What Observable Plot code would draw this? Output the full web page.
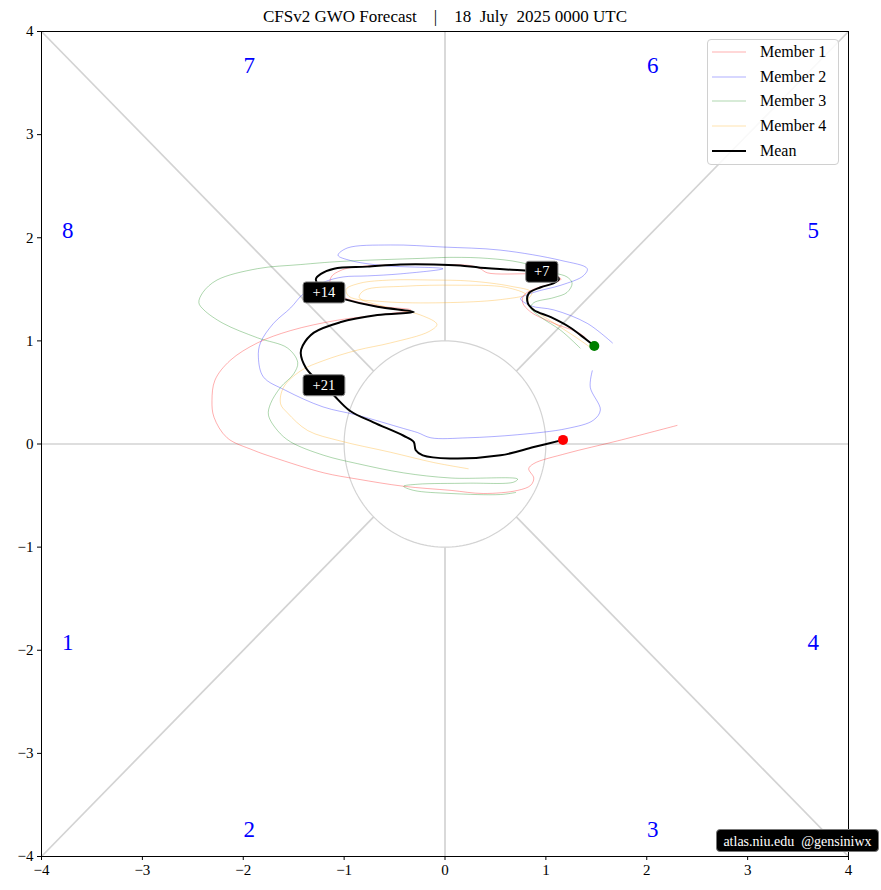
<!DOCTYPE html>
<html><head><meta charset="utf-8">
<script src="https://cdn.jsdelivr.net/npm/d3@7"></script>
<script src="https://cdn.jsdelivr.net/npm/@observablehq/plot@0.6"></script>
<style>
body{margin:0;background:#fff;}
#wrap{position:relative;width:881px;height:890px;font-family:"Liberation Serif","DejaVu Serif",serif;}
#legend{position:absolute;left:707px;top:39px;width:132px;height:126px;background:rgba(255,255,255,0.85);border:1px solid #d0d0d0;border-radius:4px;box-sizing:border-box;}
.row{position:absolute;left:0;height:20px;width:130px;}
.sw{position:absolute;left:4px;width:34px;top:9px;}
.lt{position:absolute;left:52px;top:0;font-size:16px;line-height:20px;color:#000;white-space:nowrap;}
#wm{position:absolute;left:716px;top:829px;width:163px;height:23px;background:#000;border-radius:4px;color:#fff;font-size:14px;line-height:23px;text-align:center;white-space:pre;border:1px solid #777;box-sizing:border-box;}
</style></head>
<body><div id="wrap"></div>
<script>
// ---------- data ----------
const titleText = "CFSv2 GWO Forecast \u00a0\u00a0 | \u00a0\u00a0 18 \u00a0July \u00a02025 0000 UTC";
const tickValues = [-4, -3, -2, -1, 0, 1, 2, 3, 4];

const phaseLabels = ["7", "6", "8", "5", "1", "4", "2", "3"];
const phaseX = [-1.94, 2.06, -3.74, 3.65, -3.74, 3.65, -1.94, 2.06];
const phaseY = [3.67, 3.67, 2.07, 2.07, -1.93, -1.93, -3.74, -3.74];

const member1 = [[1.44,0.98],[1.34,1.07],[1.08,1.17],[0.85,1.28],[0.77,1.37],[0.78,1.44],[0.90,1.51],[1.08,1.56],[1.15,1.60],[1.03,1.64],[0.85,1.65],[0.42,1.66],[0.35,1.70],[0.25,1.73],[-0.05,1.74],[-0.44,1.74],[-0.94,1.71],[-1.04,1.68],[-1.12,1.63],[-1.14,1.56],[-1.04,1.44],[-0.67,1.34],[-0.34,1.30],[-0.67,1.25],[-1.07,1.20],[-1.53,1.10],[-1.86,0.98],[-2.13,0.81],[-2.28,0.62],[-2.31,0.42],[-2.29,0.26],[-2.16,0.06],[-1.90,-0.06],[-1.70,-0.13],[-1.20,-0.28],[-0.87,-0.34],[-0.41,-0.41],[0.06,-0.45],[0.38,-0.48],[0.72,-0.45],[0.85,-0.40],[0.88,-0.33],[0.83,-0.24],[0.88,-0.19],[1.21,-0.09],[1.71,0.03],[2.30,0.18]];
const member2 = [[1.66,0.98],[1.41,1.17],[1.08,1.30],[0.85,1.34],[0.75,1.41],[0.88,1.47],[1.15,1.54],[1.37,1.63],[1.41,1.70],[1.15,1.78],[0.55,1.88],[-0.02,1.91],[-0.54,1.93],[-0.97,1.90],[-1.06,1.83],[-0.94,1.78],[-0.61,1.73],[-0.02,1.70],[-0.44,1.65],[-0.77,1.63],[-1.01,1.62],[-1.20,1.57],[-1.40,1.46],[-1.53,1.32],[-1.70,1.17],[-1.83,0.98],[-1.85,0.84],[-1.80,0.65],[-1.58,0.52],[-1.21,0.36],[-0.87,0.28],[-0.41,0.15],[-0.27,0.11],[-0.14,0.06],[0.22,0.06],[0.72,0.09],[1.21,0.15],[1.47,0.23],[1.54,0.33],[1.44,0.55],[1.46,0.71]];
const member3 = [[1.34,0.93],[1.15,1.10],[0.95,1.23],[0.85,1.32],[0.88,1.37],[1.08,1.42],[1.21,1.47],[1.26,1.56],[1.21,1.62],[1.08,1.66],[0.75,1.76],[0.42,1.80],[0.08,1.81],[-0.24,1.80],[-1.04,1.77],[-1.43,1.74],[-1.86,1.70],[-2.26,1.59],[-2.40,1.47],[-2.44,1.37],[-2.39,1.30],[-2.20,1.17],[-1.86,1.03],[-1.56,0.93],[-1.46,0.79],[-1.50,0.68],[-1.63,0.55],[-1.73,0.39],[-1.75,0.28],[-1.66,0.13],[-1.53,0.02],[-1.20,-0.11],[-0.87,-0.19],[-0.41,-0.28],[0.06,-0.33],[0.72,-0.34],[0.68,-0.37],[0.22,-0.38],[-0.27,-0.39],[-0.41,-0.41],[-0.31,-0.45],[0.06,-0.48],[0.55,-0.49],[0.70,-0.47]];
const member4 = [[1.48,0.91],[1.29,1.04],[1.07,1.18],[0.90,1.29],[0.82,1.38],[0.86,1.47],[0.65,1.53],[0.25,1.58],[-0.14,1.59],[-0.54,1.59],[-0.84,1.56],[-0.98,1.50],[-0.95,1.43],[-0.60,1.38],[-0.02,1.37],[0.55,1.40],[0.80,1.45],[0.60,1.52],[0.10,1.54],[-0.40,1.53],[-0.80,1.49],[-0.85,1.42],[-0.59,1.33],[-0.24,1.25],[-0.08,1.16],[-0.16,1.09],[-0.54,0.98],[-0.87,0.91],[-1.20,0.81],[-1.43,0.71],[-1.60,0.55],[-1.63,0.39],[-1.56,0.30],[-1.36,0.13],[-1.04,0.03],[-0.54,-0.08],[-0.11,-0.18],[0.23,-0.24]];
const meanPath = [[1.48,0.95],[1.39,1.02],[1.24,1.13],[1.05,1.23],[0.88,1.30],[0.82,1.37],[0.83,1.46],[0.95,1.52],[1.08,1.56],[1.13,1.60],[1.10,1.63],[0.96,1.67],[0.82,1.68],[0.35,1.71],[0.15,1.73],[-0.11,1.74],[-0.44,1.74],[-0.77,1.72],[-1.10,1.70],[-1.23,1.65],[-1.28,1.60],[-1.20,1.47],[-1.02,1.41],[-0.67,1.33],[-0.31,1.28],[-0.67,1.25],[-1.04,1.18],[-1.30,1.08],[-1.41,0.955],[-1.43,0.88],[-1.38,0.74],[-1.30,0.65],[-1.20,0.57],[-1.10,0.47],[-0.94,0.32],[-0.71,0.21],[-0.41,0.08],[-0.31,0.02],[-0.29,-0.06],[-0.22,-0.11],[0.05,-0.14],[0.55,-0.11],[0.88,-0.03],[1.17,0.04]];

const dayLabels = ["+7", "+14", "+21"];
const dayX = [0.96, -1.20, -1.20];
const dayY = [1.67, 1.47, 0.57];

const seriesNames = ["Member 1", "Member 2", "Member 3", "Member 4", "Mean"];
const seriesColors = ["red", "blue", "green", "orange", "black"];
const seriesOpacity = [0.4, 0.4, 0.4, 0.4, 1];
const seriesWidth = [0.8, 0.8, 0.8, 0.8, 2];
const credit = "atlas.niu.edu \u00a0@gensiniwx";

// ---------- derived ----------
const members = [member1, member2, member3, member4];
const d2 = Math.SQRT1_2;
const refSegments = [
  {x1: -4, y1: 0, x2: -1, y2: 0}, {x1: 1, y1: 0, x2: 4, y2: 0},
  {x1: 0, y1: 1, x2: 0, y2: 4}, {x1: 0, y1: -1, x2: 0, y2: -4},
  {x1: -4, y1: 4, x2: -d2, y2: d2}, {x1: 4, y1: 4, x2: d2, y2: d2},
  {x1: -4, y1: -4, x2: -d2, y2: -d2}, {x1: 4, y1: -4, x2: d2, y2: -d2}
];
const circle = d3.range(0, 361, 2).map(a => [Math.cos(a * Math.PI / 180), Math.sin(a * Math.PI / 180)]);
const phases = phaseLabels.map((t, i) => ({t, x: phaseX[i], y: phaseY[i]}));
const days = dayLabels.map((t, i) => ({t, x: dayX[i], y: dayY[i], hw: 6.5 + 4.8 * t.length}));

const roundBox = {
  draw(ctx, size) {
    const hw = Math.sqrt(size / Math.PI), hh = 10.5, r = 3;
    ctx.moveTo(-hw + r, -hh);
    ctx.lineTo(hw - r, -hh); ctx.arcTo(hw, -hh, hw, -hh + r, r);
    ctx.lineTo(hw, hh - r); ctx.arcTo(hw, hh, hw - r, hh, r);
    ctx.lineTo(-hw + r, hh); ctx.arcTo(-hw, hh, -hw, hh - r, r);
    ctx.lineTo(-hw, -hh + r); ctx.arcTo(-hw, -hh, -hw + r, -hh, r);
    ctx.closePath();
  }
};

const memberMarks = members.map((m, i) => Plot.line(m, {
  x: d => d[0], y: d => d[1], stroke: seriesColors[i], strokeOpacity: seriesOpacity[i],
  strokeWidth: seriesWidth[i], curve: "catmull-rom"
}));

const chart = Plot.plot({
  width: 881, height: 890,
  marginLeft: 41, marginRight: 33, marginTop: 31, marginBottom: 34,
  style: {fontFamily: "'Liberation Serif', 'DejaVu Serif', serif", fontSize: "15px", background: "transparent", overflow: "visible", color: "black"},
  x: {domain: [-4, 4], label: null},
  y: {domain: [-4, 4], label: null},
  r: {type: "identity"},
  marks: [
    Plot.link(refSegments, {x1: "x1", y1: "y1", x2: "x2", y2: "y2", stroke: "#d3d3d3", strokeWidth: 1.7}),
    Plot.line(circle, {x: d => d[0], y: d => d[1], stroke: "#d3d3d3", strokeWidth: 1.2}),
    ...memberMarks,
    Plot.line(meanPath, {x: d => d[0], y: d => d[1], stroke: "black", strokeWidth: 2, curve: "catmull-rom"}),
    Plot.dot([meanPath[0]], {x: d => d[0], y: d => d[1], r: 5, fill: "green"}),
    Plot.dot([meanPath[meanPath.length - 1]], {x: d => d[0], y: d => d[1], r: 5, fill: "red"}),
    Plot.dot(days, {x: "x", y: "y", r: "hw", symbol: roundBox, fill: "black", stroke: "#888", strokeWidth: 1}),
    Plot.text(days, {x: "x", y: "y", text: "t", fill: "white", fontSize: 14.5}),
    Plot.text(phases, {x: "x", y: "y", text: "t", fill: "blue", fontSize: 23}),
    Plot.frame({stroke: "black", strokeWidth: 1}),
    Plot.axisX({ticks: tickValues, tickSize: 4, tickPadding: 4, fontSize: 15, label: null, fill: "black"}),
    Plot.axisY({ticks: tickValues, tickSize: 4, tickPadding: 4, fontSize: 15, label: null, fill: "black"}),
    Plot.text([titleText], {frameAnchor: "top", lineAnchor: "middle", dy: -15, fontSize: 17, fill: "black"})
  ]
});
d3.select(chart).selectAll('[aria-label$="tick label"] text, [aria-label$="tick label"]')
  .style("font-size", "15px");
const wrap = document.getElementById("wrap");
wrap.appendChild(chart);

// legend
const leg = document.createElement("div");
leg.id = "legend";
seriesNames.forEach((n, i) => {
  const row = document.createElement("div");
  row.className = "row";
  row.style.top = (2 + i * 24.7) + "px";
  row.innerHTML = `<svg class="sw" width="34" height="3" style="overflow:visible"><line x1="0" x2="34" y1="1" y2="1" stroke="${seriesColors[i]}" stroke-opacity="${seriesOpacity[i]}" stroke-width="${seriesWidth[i]}"/></svg><span class="lt">${n}</span>`;
  leg.appendChild(row);
});
wrap.appendChild(leg);
const wm = document.createElement("div");
wm.id = "wm";
wm.textContent = credit;
wrap.appendChild(wm);
</script>
</body></html>
